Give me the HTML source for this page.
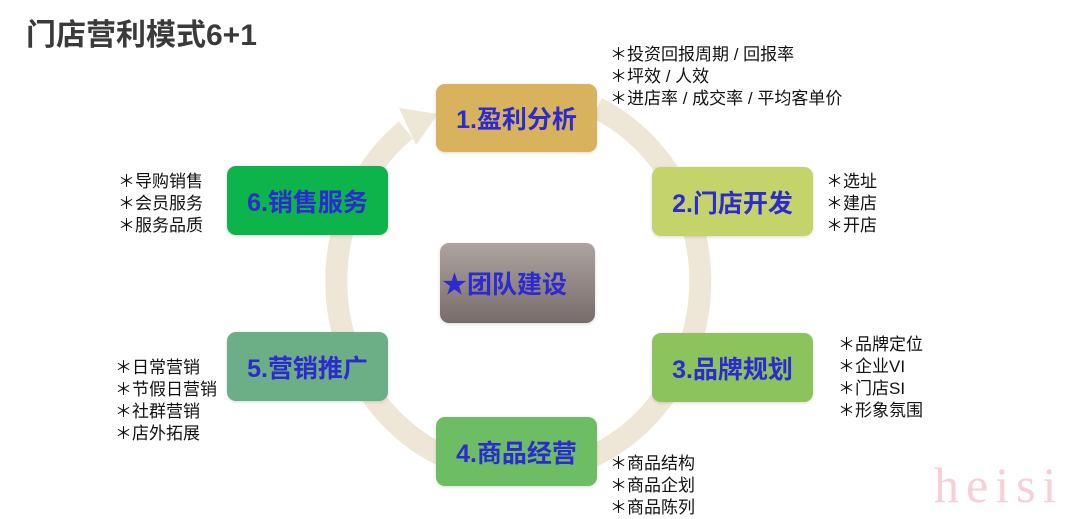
<!DOCTYPE html>
<html><head><meta charset="utf-8"><style>
body{margin:0;width:1080px;height:519px;background:#fff;position:relative;overflow:hidden;font-family:"Liberation Sans","Noto Sans CJK SC",sans-serif}
.t{position:absolute;left:26px;top:10px;font-size:30px;font-weight:bold;color:#3a3a3a}
.b{position:absolute;border-radius:9px;display:flex;align-items:center;justify-content:center;font-size:25px;font-weight:bold;color:#2b2bd0;box-shadow:0 1px 3px rgba(0,0,0,.15)}
.n{position:absolute;font-size:17px;line-height:22px;color:#111;white-space:nowrap}
.w{position:absolute;left:934px;top:456px;font-family:"Liberation Serif",serif;font-size:50px;color:#f7cfd6;letter-spacing:7px}
</style></head><body>
<svg style="position:absolute;left:0;top:0" width="1080" height="519">
<path d="M 406 130 A 182 192 0 1 0 597 108" fill="none" stroke="#eee6d6" stroke-width="22"/>
<polygon points="399,108 416,145 438,114" fill="#eee6d6"/>
</svg>
<div class="t">门店营利模式6+1</div>
<div class="b" style="left:436px;top:84px;width:161px;height:68px;background:#d8b25c">1.盈利分析</div>
<div class="b" style="left:652px;top:167px;width:161px;height:69px;background:#c5d36b">2.门店开发</div>
<div class="b" style="left:652px;top:333px;width:161px;height:69px;background:#8cc35c">3.品牌规划</div>
<div class="b" style="left:436px;top:417px;width:161px;height:69px;background:#6dbd64">4.商品经营</div>
<div class="b" style="left:227px;top:332px;width:161px;height:69px;background:#6cae85">5.营销推广</div>
<div class="b" style="left:227px;top:166px;width:161px;height:69px;background:#0db34b">6.销售服务</div>
<div class="b" style="left:440px;top:243px;width:155px;height:80px;background:linear-gradient(#ada3a0,#776c6a);justify-content:flex-start;padding-left:2px;box-sizing:border-box">★团队建设</div>
<div class="n" style="left:610px;top:44px">＊投资回报周期 / 回报率<br>＊坪效 / 人效<br>＊进店率 / 成交率 / 平均客单价</div>
<div class="n" style="left:826px;top:171px">＊选址<br>＊建店<br>＊开店</div>
<div class="n" style="left:838px;top:334px">＊品牌定位<br>＊企业VI<br>＊门店SI<br>＊形象氛围</div>
<div class="n" style="left:610px;top:453px">＊商品结构<br>＊商品企划<br>＊商品陈列</div>
<div class="n" style="left:115px;top:357px">＊日常营销<br>＊节假日营销<br>＊社群营销<br>＊店外拓展</div>
<div class="n" style="left:118px;top:171px">＊导购销售<br>＊会员服务<br>＊服务品质</div>
<div class="w">heisi</div>
</body></html>
